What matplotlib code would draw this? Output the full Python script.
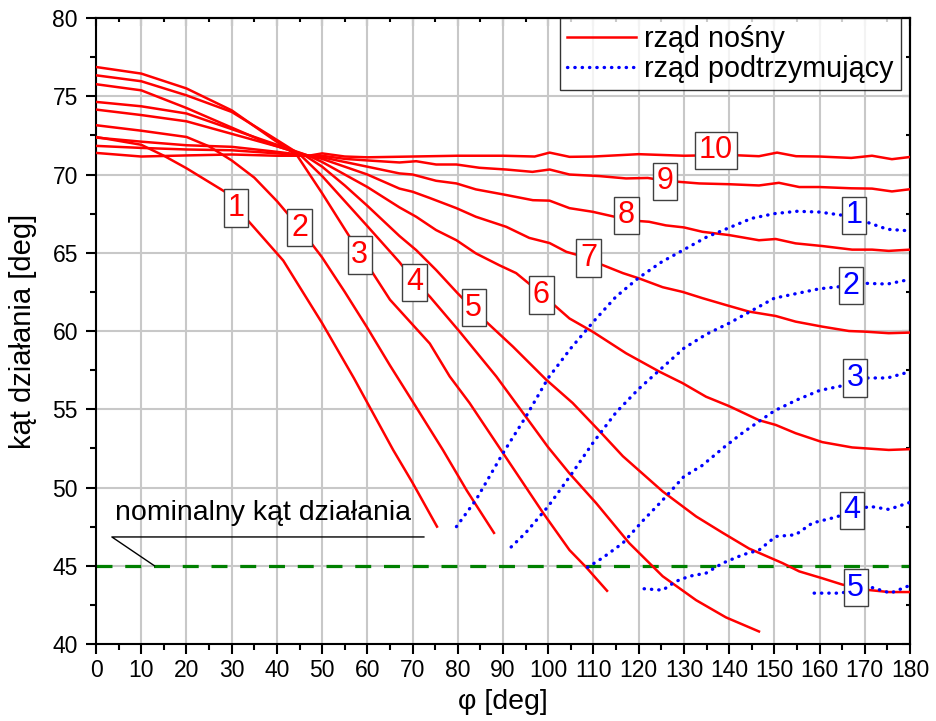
import matplotlib
matplotlib.use("Agg")
import matplotlib.pyplot as plt
from matplotlib.ticker import MultipleLocator

plt.rcParams['font.family'] = ['Liberation Sans', 'DejaVu Sans']

# rząd nośny (red, solid) - curves 1..10
red1_x = [0, 10, 15, 20, 28.5, 31, 35, 41.4, 50, 57, 65.7, 70, 75.4]
red1_y = [72.4, 71.9, 71.2, 70.4, 68.9, 67.9, 66.6, 64.5, 60.5, 57.0, 52.4, 50.3, 47.5]

red2_x = [0, 10, 20, 25, 30, 35, 40, 45, 50, 55, 60, 65, 70, 76.7, 82, 88]
red2_y = [73.15, 72.8, 72.4, 71.8, 70.9, 69.8, 68.3, 66.6, 64.7, 62.5, 60.2, 57.8, 55.5, 52.4, 49.8, 47.1]

red3_x = [0, 10, 20, 30, 38.4, 44.5, 50, 58.3, 65, 73.8, 78.2, 82.6, 90, 98.8, 104.7, 108.4, 113]
red3_y = [76.87, 76.45, 75.5, 74.1, 72.4, 71.2, 68.8, 65.0, 62.0, 59.2, 57.1, 55.4, 52.2, 48.4, 46.0, 44.9, 43.4]

red4_x = [0, 10, 20, 30, 38.4, 45, 50, 55, 60, 67.1, 70.4, 73.8, 80.4, 88.5, 95.1, 99.9,
          104.7, 110.6, 117.9, 125.3, 132.7, 139.3, 146.6]
red4_y = [76.34, 75.96, 75.06, 74.0, 72.5, 71.3, 69.9, 68.3, 66.7, 64.4, 63.2, 62.2, 59.96, 57.1, 54.5, 52.6,
          50.9, 49.0, 46.45, 44.33, 42.8, 41.7, 40.8]

red5_x = [0, 10, 20, 30, 38, 46, 50, 55, 60, 67.1, 70.8, 75.2, 80, 85.5, 92.2, 99.5, 105.4, 112, 116.5,
          125.3, 132.7, 138.6, 144.4, 151.8, 155.5, 160.6, 165, 170.2, 175.3, 180]
red5_y = [75.77, 75.38, 74.25, 73.0, 72.0, 71.25, 70.5, 69.3, 68.0, 66.07, 65.17, 63.9, 62.4, 60.8, 59.0, 56.9,
          55.4, 53.4, 52.0, 49.75, 48.15, 47.1, 46.1, 45.17, 44.64, 44.2, 43.8, 43.47, 43.32, 43.32]

red6_x = [0, 10, 20, 30, 40, 47, 50, 55, 60, 67.1, 70.8, 75.2, 79.7, 84, 89.2, 92.9, 98.4, 104.7, 109.8,
          117.2, 124.6, 129.7, 134.9, 140, 146.6, 150.3, 154.7, 160.6, 167.2, 175.3, 180]
red6_y = [74.64, 74.36, 73.9, 72.9, 71.9, 71.2, 70.8, 70.0, 69.2, 67.9, 67.3, 66.45, 65.8, 64.96, 64.2, 63.7,
          62.4, 60.8, 59.96, 58.58, 57.4, 56.67, 55.8, 55.2, 54.3, 54.0, 53.47, 52.9, 52.56, 52.4, 52.45]

red7_x = [0, 10, 20, 30, 40, 47, 50, 55, 60, 67.1, 70, 73.8, 79.7, 84, 90.7, 95.8, 100.3, 104, 108.9, 111.3,
          116.5, 120, 125.3, 129.7, 134.1, 139.3, 144.4, 150.3, 154.7, 160.6, 166.5, 170, 175.3, 180]
red7_y = [74.15, 73.8, 73.4, 72.6, 71.8, 71.2, 71.0, 70.5, 70.0, 69.1, 68.9, 68.5, 67.85, 67.3, 66.66, 65.95,
          65.62, 65.06, 64.66, 64.3, 63.7, 63.37, 62.8, 62.5, 62.1, 61.66, 61.24, 60.96, 60.6, 60.28, 60.0,
          59.96, 59.86, 59.9]

red8_x = [0, 10, 20, 30, 40, 47, 50, 55, 60, 67.1, 70, 75.2, 79.7, 84, 90, 96.6, 100.3, 104.7, 109.8, 115,
          119, 122.3, 126, 130, 134.1, 140, 146.6, 150.3, 154.7, 160.6, 167.2, 171.6, 175.3, 180]
red8_y = [72.36, 72.1, 71.87, 71.77, 71.45, 71.2, 71.1, 70.8, 70.5, 70.07, 70.0, 69.6, 69.43, 69.05, 68.73,
          68.36, 68.33, 67.85, 67.62, 67.28, 67.05, 66.98, 66.75, 66.62, 66.34, 66.13, 65.8, 65.88, 65.6,
          65.43, 65.2, 65.2, 65.12, 65.2]

red9_x = [0, 10, 20, 30, 40, 47, 50, 55, 60, 67.1, 70.8, 75.2, 79.7, 84.8, 90.7, 96.5, 100.3, 104.7, 111.3,
          117.2, 122, 126, 133.4, 140, 146.6, 151, 155.5, 160, 167, 171.6, 176, 180]
red9_y = [71.83, 71.7, 71.6, 71.55, 71.35, 71.2, 71.2, 71.0, 70.9, 70.77, 70.85, 70.64, 70.64, 70.43, 70.32,
          70.17, 70.32, 70.0, 69.9, 69.75, 69.78, 69.6, 69.43, 69.38, 69.3, 69.47, 69.2, 69.2, 69.12, 69.1,
          68.92, 69.06]

red10_x = [0, 10, 20, 30, 40, 47, 50, 55, 60, 70, 80, 90, 97, 100.3, 104.7, 110, 120, 130, 140, 146.6,
           150.6, 154.8, 160, 167, 171.6, 176, 180]
red10_y = [71.38, 71.15, 71.22, 71.28, 71.2, 71.2, 71.35, 71.15, 71.1, 71.15, 71.2, 71.2, 71.15, 71.4, 71.13,
           71.15, 71.3, 71.2, 71.25, 71.17, 71.4, 71.17, 71.15, 71.06, 71.2, 70.98, 71.12]

# rząd podtrzymujący (blue, dotted) - curves 1..5
blue1_x = [79.7, 84, 90, 95, 100, 105, 110, 115, 120, 125, 130, 135, 140, 145, 150, 155, 160, 165, 170, 175, 180]
blue1_y = [47.5, 49.2, 52.2, 54.5, 57.0, 58.9, 60.6, 62.2, 63.4, 64.4, 65.2, 66.0, 66.6, 67.2, 67.5, 67.65,
           67.6, 67.4, 67.0, 66.5, 66.4]

blue2_x = [91.8, 95, 100, 105, 110, 115, 120, 125, 130, 135, 140, 145, 150, 155, 160, 165, 170, 175, 180]
blue2_y = [46.2, 47.1, 48.8, 50.8, 52.9, 54.8, 56.3, 57.6, 58.9, 59.8, 60.5, 61.3, 62.1, 62.4, 62.7, 62.85,
           63.05, 63.0, 63.3]

blue3_x = [108.7, 112, 116.5, 121, 125, 130, 134, 139, 143, 147, 150, 155, 160, 165, 170, 175, 180]
blue3_y = [44.9, 45.5, 46.45, 47.9, 49.1, 50.7, 51.4, 52.6, 53.5, 54.3, 54.9, 55.6, 56.2, 56.5, 57.0, 57.0, 57.4]

blue4_x = [121.2, 125.3, 128.2, 131.2, 134.9, 138.6, 143, 146.6, 150.3, 154.7, 158.4, 162.8, 167, 171, 175.3, 180]
blue4_y = [43.53, 43.44, 44.0, 44.33, 44.53, 45.17, 45.7, 46.0, 46.87, 46.98, 47.73, 48.05, 48.4, 48.8, 48.6, 49.05]

blue5_x = [158.8, 164.3, 168, 171.7, 175.7, 180]
blue5_y = [43.25, 43.25, 43.4, 43.6, 43.25, 43.75]

# curve number tags: (phi, angle)
red_tags = [(30.9, 67.85), (45.0, 66.6), (58.3, 64.85), (70.4, 63.1), (83.5, 61.5),
            (98.5, 62.3), (108.9, 64.66), (117.3, 67.4), (125.9, 69.57), (137.1, 71.55)]
blue_tags = [(167.6, 67.4), (167.0, 62.9), (167.8, 57.0), (167.2, 48.55), (168.0, 43.6)]

nominal_angle = 45

red_curves = [(red1_x, red1_y), (red2_x, red2_y), (red3_x, red3_y), (red4_x, red4_y), (red5_x, red5_y),
              (red6_x, red6_y), (red7_x, red7_y), (red8_x, red8_y), (red9_x, red9_y), (red10_x, red10_y)]
blue_curves = [(blue1_x, blue1_y), (blue2_x, blue2_y), (blue3_x, blue3_y), (blue4_x, blue4_y),
               (blue5_x, blue5_y)]

fig = plt.figure(figsize=(9.37, 7.21), dpi=100)
ax = fig.add_axes([0.1025, 0.1068, 0.8687, 0.8682])

ax.grid(True, which='major', color='#c8c8c8', lw=1.5)
ax.set_axisbelow(True)

ax.axhline(nominal_angle, color='#008000', lw=2.3, ls=(0, (5, 4)), zorder=2)

for i, (xs, ys) in enumerate(red_curves):
    ax.plot(xs, ys, color='red', lw=1.8, zorder=3,
            label='rząd nośny' if i == 0 else None)

for i, (xs, ys) in enumerate(blue_curves):
    ax.plot(xs, ys, color='blue', lw=2.4, ls=(0, (0.1, 2.1)), dash_capstyle='round', zorder=3,
            label='rząd podtrzymujący' if i == 0 else None)

box = dict(boxstyle='square,pad=0.12', facecolor='white', edgecolor='#404040', lw=1)
for k, (x, y) in enumerate(red_tags):
    ax.text(x, y, str(k + 1), color='red', fontsize=22, ha='center', va='center', bbox=box, zorder=5)
for k, (x, y) in enumerate(blue_tags):
    ax.text(x, y, str(k + 1), color='blue', fontsize=22, ha='center', va='center', bbox=box, zorder=5)

# nominal angle annotation
ax.plot([72.5, 3.5, 12.9], [46.84, 46.84, nominal_angle], color='black', lw=1, zorder=4)
ax.text(4.2, 47.9, 'nominalny kąt działania', fontsize=20.5, ha='left', va='baseline', zorder=4)

ax.set_xlim(0, 180)
ax.set_ylim(40, 80)
ax.xaxis.set_major_locator(MultipleLocator(10))
ax.xaxis.set_minor_locator(MultipleLocator(5))
ax.yaxis.set_major_locator(MultipleLocator(5))
ax.yaxis.set_minor_locator(MultipleLocator(2.5))

ax.tick_params(which='both', direction='out', width=1.5, labelsize=16.5, top=False, right=False)
ax.tick_params(which='major', length=7)
ax.tick_params(which='minor', length=4)
ax.tick_params(axis='x', pad=4)
ax.tick_params(axis='y', pad=6)

# inward ticks on top and right
secx = ax.secondary_xaxis('top')
secx.xaxis.set_major_locator(MultipleLocator(10))
secx.xaxis.set_minor_locator(MultipleLocator(5))
secx.tick_params(which='both', direction='in', width=1.5, labeltop=False)
secx.tick_params(which='major', length=6)
secx.tick_params(which='minor', length=3)
secy = ax.secondary_yaxis('right')
secy.yaxis.set_major_locator(MultipleLocator(5))
secy.yaxis.set_minor_locator(MultipleLocator(2.5))
secy.tick_params(which='both', direction='in', width=1.5, labelright=False)
secy.tick_params(which='major', length=6)
secy.tick_params(which='minor', length=3)

for s in ax.spines.values():
    s.set_linewidth(1.5)
secx.spines['top'].set_linewidth(1.5)
secy.spines['right'].set_linewidth(1.5)

ax.set_xlabel('φ [deg]', fontsize=20.5, labelpad=5)
ax.set_ylabel('kąt działania [deg]', fontsize=21, labelpad=11)

leg = ax.legend(loc='upper right', bbox_to_anchor=(0.989, 1.0), borderaxespad=0, fontsize=20.7,
                frameon=True, fancybox=False, edgecolor='black', handlelength=2.4,
                handletextpad=0.3, labelspacing=0.05, borderpad=0.25)
leg.get_frame().set_linewidth(1.0)
leg.set_zorder(6)

fig.savefig('out.png', dpi=100, facecolor='white')
